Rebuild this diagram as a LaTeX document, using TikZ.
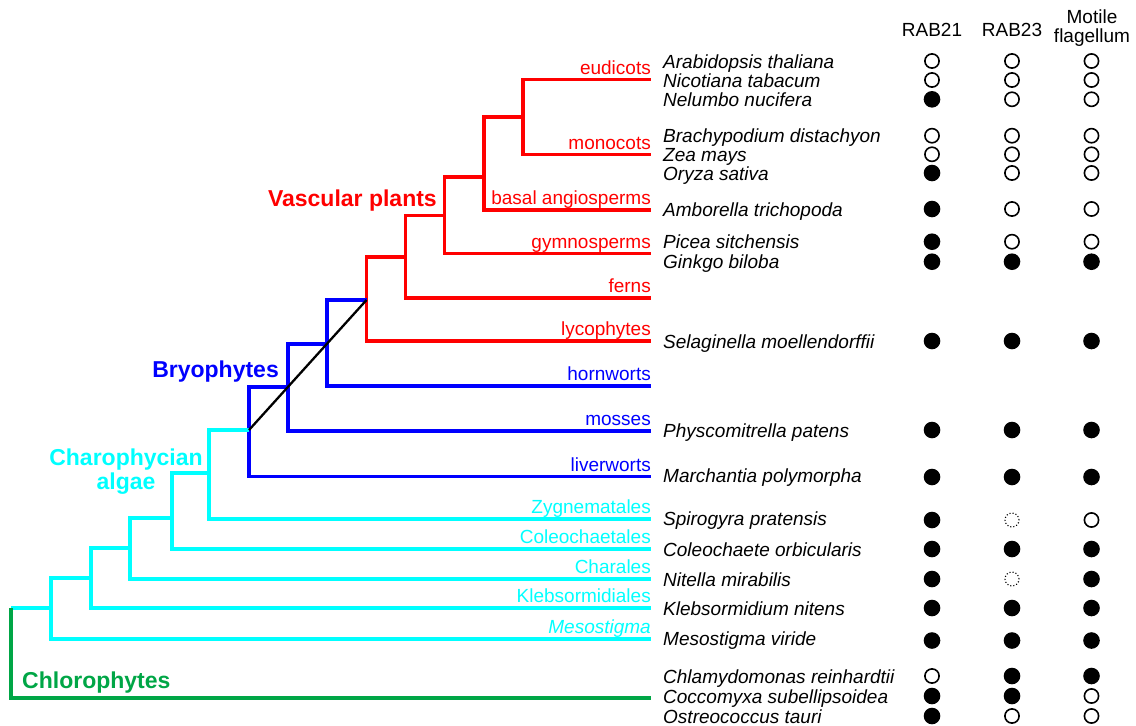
\documentclass[tikz,border=0pt]{standalone}
\usepackage{fontspec}
\setmainfont{Liberation Sans}
\usepackage{tikz}
\usetikzlibrary{positioning}

\definecolor{vasc}{RGB}{255,0,0}
\definecolor{bryo}{RGB}{0,0,255}
\definecolor{charo}{RGB}{0,255,255}
\definecolor{chloro}{RGB}{0,166,70}

\begin{document}
\begin{tikzpicture}[
  x=1pt, y=-1pt,
  font=\fontsize{19}{19.5}\selectfont,
  branch/.style={line width=3.6pt, line join=miter},
  clade/.style={anchor=base east, yshift=5.5pt, inner sep=0pt},
  group/.style={font=\fontsize{23}{24}\selectfont\bfseries, inner sep=0pt},
  sp/.style={anchor=base west, yshift=-7pt, inner sep=0pt, font=\fontsize{19}{19.5}\selectfont\itshape},
  head/.style={align=center, inner sep=0pt},
  present/.style={circle, fill=black, minimum size=16.6pt, inner sep=0pt},
  absent/.style={circle, draw=black, line width=1.6pt, minimum size=14.2pt, inner sep=0pt},
  uncertain/.style={circle, draw=black, line width=1.1pt, dotted, minimum size=14pt, inner sep=0pt},
]
\useasboundingbox (0,0) rectangle (1136,726);
% leaves (line ends)
\coordinate (eud)    at (651,79.5);
\coordinate (mono)   at (651,154.5);
\coordinate (basal)  at (651,210);
\coordinate (gymno)  at (651,253.5);
\coordinate (ferns)  at (651,298);
\coordinate (lyco)   at (651,341);
\coordinate (horn)   at (651,386);
\coordinate (moss)   at (651,431);
\coordinate (liver)  at (651,476.5);
\coordinate (zyg)    at (651,519);
\coordinate (cole)   at (651,549);
\coordinate (chara)  at (651,579);
\coordinate (kleb)   at (651,608);
\coordinate (meso)   at (651,639);
\coordinate (chlo)   at (651,698);
% internal nodes
\coordinate (n4)   at (523,117);
\coordinate (n3)   at (484,177);
\coordinate (n2)   at (444.5,215.5);
\coordinate (n1)   at (405.5,257);
\coordinate (vp)   at (366.5,300);
\coordinate (hn)   at (327,344);
\coordinate (mn)   at (288,387);
\coordinate (bp)   at (249,430);
\coordinate (c1)   at (209,473);
\coordinate (c2)   at (172,518);
\coordinate (c3)   at (130,548);
\coordinate (c4)   at (91,578);
\coordinate (c5)   at (51,608);
\coordinate (root) at (11,608);
% Vascular plants
\draw[branch, vasc] (n4) |- (eud);  \draw[branch, vasc] (n4) |- (mono);
\draw[branch, vasc] (n3) |- (n4);   \draw[branch, vasc] (n3) |- (basal);
\draw[branch, vasc] (n2) |- (n3);   \draw[branch, vasc] (n2) |- (gymno);
\draw[branch, vasc] (n1) |- (n2);   \draw[branch, vasc] (n1) |- (ferns);
\draw[branch, vasc] (vp) |- (n1);   \draw[branch, vasc] (vp) |- (lyco);
% Bryophytes
\draw[branch, bryo] (hn) |- (vp);   \draw[branch, bryo] (hn) |- (horn);
\draw[branch, bryo] (mn) |- (hn);   \draw[branch, bryo] (mn) |- (moss);
\draw[branch, bryo] (bp) |- (mn);   \draw[branch, bryo] (bp) |- (liver);
% Charophycian algae
\draw[branch, charo] (c1) |- (bp);  \draw[branch, charo] (c1) |- (zyg);
\draw[branch, charo] (c2) |- (c1);  \draw[branch, charo] (c2) |- (cole);
\draw[branch, charo] (c3) |- (c2);  \draw[branch, charo] (c3) |- (chara);
\draw[branch, charo] (c4) |- (c3);  \draw[branch, charo] (c4) |- (kleb);
\draw[branch, charo] (c5) |- (c4);  \draw[branch, charo] (c5) |- (meso);
\draw[branch, charo] (root) |- (c5);
% Chlorophytes
\draw[branch, chloro] (root) |- (chlo);
% land plants
\draw[line width=2.3pt, black] (bp) -- (vp);
% clade labels
\node[clade, text=vasc] (leud) at (eud) {eudicots};
\node[clade, text=vasc] (lmono) at (mono) {monocots};
\node[clade, text=vasc] (lbasal) at (basal) {basal angiosperms};
\node[clade, text=vasc] (lgymno) at (gymno) {gymnosperms};
\node[clade, text=vasc] (lferns) at (ferns) {ferns};
\node[clade, text=vasc] (llyco) at (lyco) {lycophytes};
\node[clade, text=bryo] (lhorn) at (horn) {hornworts};
\node[clade, text=bryo] (lmoss) at (moss) {mosses};
\node[clade, text=bryo] (lliver) at (liver) {liverworts};
\node[clade, text=charo] (lzyg) at (zyg) {Zygnematales};
\node[clade, text=charo] (lcole) at (cole) {Coleochaetales};
\node[clade, text=charo] (lchara) at (chara) {Charales};
\node[clade, text=charo] (lkleb) at (kleb) {Klebsormidiales};
\node[clade, text=charo, font=\fontsize{19}{19.5}\selectfont\itshape] (lmeso) at (meso) {Mesostigma};
% group labels
\node[group, text=vasc, anchor=base east] (gvasc) at (437,206) {Vascular plants};
\node[group, text=bryo, anchor=base east] (gbryo) at (279,377) {Bryophytes};
\node[group, text=charo, align=center, anchor=base] (gcharo) at (126,489) {Charophycian\\algae};
\node[group, text=chloro, anchor=base west] (gchloro) at (22,688) {Chlorophytes};
% column heads
\node[head] (hr21) at (932,30) {RAB21};
\node[head] (hr23) at (1012,30) {RAB23};
\node[head, font=\fontsize{19}{19.4}\selectfont] (hmot) at (1092,28) {Motile\\flagellum};
% species
\node[sp] (arath) at (663,61) {Arabidopsis thaliana};
\node[sp] (nicta) at (663,80) {Nicotiana tabacum};
\node[sp] (nelnu) at (663,99.3) {Nelumbo nucifera};
\node[sp] (bradi) at (663,135.7) {Brachypodium distachyon};
\node[sp] (zeama) at (663,154.3) {Zea mays};
\node[sp] (orysa) at (663,173) {Oryza sativa};
\node[sp] (ambtr) at (663,209) {Amborella trichopoda};
\node[sp] (picsi) at (663,241.7) {Picea sitchensis};
\node[sp] (ginbi) at (663,261.7) {Ginkgo biloba};
\node[sp] (selmo) at (663,341) {Selaginella moellendorffii};
\node[sp] (phypa) at (663,430) {Physcomitrella patens};
\node[sp] (marpo) at (663,475) {Marchantia polymorpha};
\node[sp] (spipr) at (663,518) {Spirogyra pratensis};
\node[sp] (coorb) at (663,549) {Coleochaete orbicularis};
\node[sp] (nitmi) at (663,579) {Nitella mirabilis};
\node[sp] (klebn) at (663,608) {Klebsormidium nitens};
\node[sp] (mesvi) at (663,638.5) {Mesostigma viride};
\node[sp] (chlre) at (663,676) {Chlamydomonas reinhardtii};
\node[sp] (cocsu) at (663,696) {Coccomyxa subellipsoidea};
\node[sp] (ostta) at (663,716) {Ostreococcus tauri};
% RAB21 / RAB23 / motile flagellum
\node[absent] (arath-a) at (932,61) {};     \node[absent] (arath-b) at (1012,61) {};     \node[absent] (arath-c) at (1091.5,61) {};
\node[absent] (nicta-a) at (932,80) {};     \node[absent] (nicta-b) at (1012,80) {};     \node[absent] (nicta-c) at (1091.5,80) {};
\node[present] (nelnu-a) at (932,99.3) {};  \node[absent] (nelnu-b) at (1012,99.3) {};   \node[absent] (nelnu-c) at (1091.5,99.3) {};
\node[absent] (bradi-a) at (932,135.7) {};  \node[absent] (bradi-b) at (1012,135.7) {};  \node[absent] (bradi-c) at (1091.5,135.7) {};
\node[absent] (zeama-a) at (932,154.3) {};  \node[absent] (zeama-b) at (1012,154.3) {};  \node[absent] (zeama-c) at (1091.5,154.3) {};
\node[present] (orysa-a) at (932,173) {};   \node[absent] (orysa-b) at (1012,173) {};    \node[absent] (orysa-c) at (1091.5,173) {};
\node[present] (ambtr-a) at (932,209) {};   \node[absent] (ambtr-b) at (1012,209) {};    \node[absent] (ambtr-c) at (1091.5,209) {};
\node[present] (picsi-a) at (932,241.7) {}; \node[absent] (picsi-b) at (1012,241.7) {};  \node[absent] (picsi-c) at (1091.5,241.7) {};
\node[present] (ginbi-a) at (932,261.7) {}; \node[present] (ginbi-b) at (1012,261.7) {}; \node[present] (ginbi-c) at (1091.5,261.7) {};
\node[present] (selmo-a) at (932,341) {};   \node[present] (selmo-b) at (1012,341) {};   \node[present] (selmo-c) at (1091.5,341) {};
\node[present] (phypa-a) at (932,430) {};   \node[present] (phypa-b) at (1012,430) {};   \node[present] (phypa-c) at (1091.5,430) {};
\node[present] (marpo-a) at (932,477) {};   \node[present] (marpo-b) at (1012,477) {};   \node[present] (marpo-c) at (1091.5,477) {};
\node[present] (spipr-a) at (932,520) {};   \node[uncertain] (spipr-b) at (1012,520) {}; \node[absent] (spipr-c) at (1091.5,520) {};
\node[present] (coorb-a) at (932,549) {};   \node[present] (coorb-b) at (1012,549) {};   \node[present] (coorb-c) at (1091.5,549) {};
\node[present] (nitmi-a) at (932,579) {};   \node[uncertain] (nitmi-b) at (1012,579) {}; \node[present] (nitmi-c) at (1091.5,579) {};
\node[present] (klebn-a) at (932,608) {};   \node[present] (klebn-b) at (1012,608) {};   \node[present] (klebn-c) at (1091.5,608) {};
\node[present] (mesvi-a) at (932,640.5) {}; \node[present] (mesvi-b) at (1012,640.5) {}; \node[present] (mesvi-c) at (1091.5,640.5) {};
\node[absent] (chlre-a) at (932,676) {};    \node[present] (chlre-b) at (1012,676) {};   \node[present] (chlre-c) at (1091.5,676) {};
\node[present] (cocsu-a) at (932,696) {};   \node[present] (cocsu-b) at (1012,696) {};   \node[absent] (cocsu-c) at (1091.5,696) {};
\node[present] (ostta-a) at (932,716) {};   \node[absent] (ostta-b) at (1012,716) {};    \node[absent] (ostta-c) at (1091.5,716) {};
\end{tikzpicture}
\end{document}
